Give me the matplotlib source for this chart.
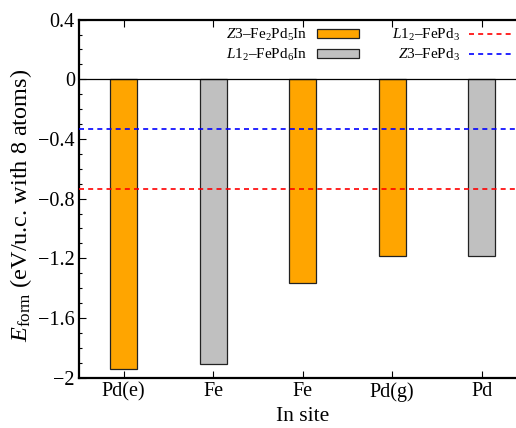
import matplotlib
matplotlib.use("Agg")
import matplotlib.pyplot as plt
from matplotlib.ticker import MultipleLocator, FixedLocator, FixedFormatter
from matplotlib.patches import Patch

plt.rcParams['font.family'] = ['Liberation Serif', 'DejaVu Serif']
plt.rcParams['mathtext.fontset'] = 'custom'
plt.rcParams['mathtext.rm'] = 'Liberation Serif'
plt.rcParams['mathtext.it'] = 'Liberation Serif:italic'
plt.rcParams['mathtext.bf'] = 'Liberation Serif:bold'

sites = ["Pd(e)", "Fe", "Fe", "Pd(g)", "Pd"]
energies = [-1.94, -1.91, -1.367, -1.186, -1.186]
structure = ["Z3", "L12", "Z3", "Z3", "L12"]
colors_map = {"Z3": "#FFA500", "L12": "#C0C0C0"}
ref_L12_FePd3 = -0.733
ref_Z3_FePd3 = -0.333
yticks = [0.4, 0, -0.4, -0.8, -1.2, -1.6, -2]
ytick_labels = ["0.4", "0", "\u22120.4", "\u22120.8", "\u22121.2", "\u22121.6", "\u22122"]
legend_labels = ["$Z3$\u2013Fe$_2$Pd$_5$In",
                 "$L1_2$\u2013FePd$_6$In",
                 "$L1_2$\u2013FePd$_3$",
                 "$Z3$\u2013FePd$_3$"]

fig = plt.figure(figsize=(5.16, 4.28), dpi=100)
ax = fig.add_axes([79/516, 1-377.7/428, (526.5-79)/516, (377.7-19.6)/428])

x = list(range(len(sites)))
bar_colors = [colors_map[s] for s in structure]
ax.bar(x, energies, width=0.3, color=bar_colors, edgecolor='#222222', linewidth=0.9, zorder=2)

ax.axhline(0, color='black', linewidth=0.9, zorder=3)
l1, = ax.plot([-0.5, 4.5], [ref_L12_FePd3]*2, color='red', ls=(0, (3, 2.5)), lw=1.2, zorder=4)
l2, = ax.plot([-0.5, 4.5], [ref_Z3_FePd3]*2, color='blue', ls=(0, (3, 2.5)), lw=1.2, zorder=4)

ax.set_xlim(-0.5, 4.5)
ax.set_ylim(-2, 0.4)
ax.set_xticks(x)
ax.set_xticklabels(sites, fontsize=14.5)
ax.yaxis.set_major_locator(FixedLocator(yticks))
ax.yaxis.set_major_formatter(FixedFormatter(ytick_labels))
ax.yaxis.set_minor_locator(MultipleLocator(0.1))
ax.tick_params(axis='y', which='major', direction='in', length=5, width=0.8, labelsize=14.5, right=False, pad=3)
ax.tick_params(axis='y', which='minor', direction='in', length=2.5, width=0.8, right=False)
ax.tick_params(axis='x', which='major', direction='in', length=5, width=0.8, top=True, pad=3)
ax.tick_params(axis='x', which='minor', bottom=False, top=False)
for sp in ax.spines.values():
    sp.set_linewidth(1.6)
ax.spines['right'].set_visible(False)

ax.set_xlabel("In site", fontsize=15.5, labelpad=4)
ax.set_ylabel(r"$E_{\rm form}$ (eV/u.c. with 8 atoms)", fontsize=17.5)
ax.yaxis.set_label_coords(-0.1, 0.482)

h1 = Patch(facecolor="#FFA500", edgecolor='#222222', linewidth=0.9)
h2 = Patch(facecolor="#C0C0C0", edgecolor='#222222', linewidth=0.9)
handles = [h1, h2, l1, l2]
leg = ax.legend(handles, legend_labels, ncol=2, loc='upper right', bbox_to_anchor=(511/516, 1-27/428),
                bbox_transform=fig.transFigure, frameon=False, markerfirst=False,
                fontsize=11, handlelength=2.75, handleheight=0.55, handletextpad=0.6,
                columnspacing=2.15, labelspacing=0.25, borderaxespad=0, borderpad=0)

fig.savefig("out.png", dpi=100)
